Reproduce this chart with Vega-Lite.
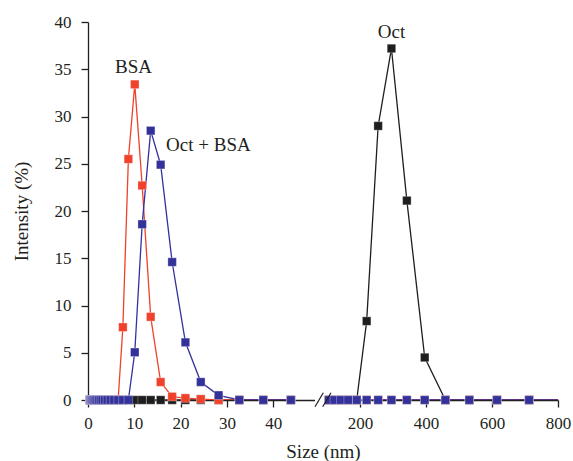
{
  "$schema": "https://vega.github.io/schema/vega-lite/v6.json",
  "width": 470,
  "height": 378,
  "autosize": "none",
  "padding": {"left": 88, "top": 22, "right": 15, "bottom": 61},
  "background": "white",
  "config": {
    "view": {"stroke": null},
    "font": "Liberation Serif",
    "axis": {
      "grid": false,
      "domainColor": "#231f20",
      "domainWidth": 1.3,
      "tickColor": "#231f20",
      "tickWidth": 1.3,
      "labelFont": "Liberation Serif",
      "labelFontSize": 17,
      "labelColor": "#231f20",
      "labelFlush": false,
      "labelOverlap": false,
      "titleFont": "Liberation Serif",
      "titleFontSize": 19,
      "titleFontWeight": "normal",
      "titleColor": "#231f20"
    }
  },
  "datasets": {
    "dls": [
      {"s":"Oct","g":1,"d":0.4,"i":0},{"s":"Oct","g":1,"d":0.4632,"i":0},{"s":"Oct","g":1,"d":0.5365,"i":0},{"s":"Oct","g":1,"d":0.6213,"i":0},{"s":"Oct","g":1,"d":0.7195,"i":0},{"s":"Oct","g":1,"d":0.8332,"i":0},{"s":"Oct","g":1,"d":0.9649,"i":0},{"s":"Oct","g":1,"d":1.117,"i":0},{"s":"Oct","g":1,"d":1.294,"i":0},{"s":"Oct","g":1,"d":1.499,"i":0},{"s":"Oct","g":1,"d":1.736,"i":0},{"s":"Oct","g":1,"d":2.01,"i":0},{"s":"Oct","g":1,"d":2.328,"i":0},{"s":"Oct","g":1,"d":2.696,"i":0},{"s":"Oct","g":1,"d":3.122,"i":0},{"s":"Oct","g":1,"d":3.615,"i":0},{"s":"Oct","g":1,"d":4.187,"i":0},{"s":"Oct","g":1,"d":4.849,"i":0},{"s":"Oct","g":1,"d":5.615,"i":0},{"s":"Oct","g":1,"d":6.503,"i":0},{"s":"Oct","g":1,"d":7.531,"i":0},{"s":"Oct","g":1,"d":8.721,"i":0},{"s":"Oct","g":1,"d":10.1,"i":0},{"s":"Oct","g":1,"d":11.7,"i":0},{"s":"Oct","g":1,"d":13.54,"i":0},{"s":"Oct","g":1,"d":15.69,"i":0},{"s":"Oct","g":1,"d":18.17,"i":0},{"s":"Oct","g":1,"d":21.04,"i":0},{"s":"Oct","g":1,"d":24.36,"i":0},{"s":"Oct","g":1,"d":28.21,"i":0},{"s":"Oct","g":1,"d":32.67,"i":0},{"s":"Oct","g":1,"d":37.84,"i":0},{"s":"Oct","g":1,"d":43.82,"i":0},
      {"s":"Oct","g":2,"d":105.7,"i":0},{"s":"Oct","g":2,"d":122.4,"i":0},{"s":"Oct","g":2,"d":141.8,"i":0},{"s":"Oct","g":2,"d":164.2,"i":0},{"s":"Oct","g":2,"d":190.1,"i":0},{"s":"Oct","g":2,"d":220.2,"i":8.35},{"s":"Oct","g":2,"d":255,"i":29.0},{"s":"Oct","g":2,"d":295.3,"i":37.2},{"s":"Oct","g":2,"d":342,"i":21.1},{"s":"Oct","g":2,"d":396.1,"i":4.5},{"s":"Oct","g":2,"d":458.7,"i":0},{"s":"Oct","g":2,"d":531.2,"i":0},{"s":"Oct","g":2,"d":615.1,"i":0},{"s":"Oct","g":2,"d":712.4,"i":0},{"s":"Oct","g":2,"d":825,"i":0},
      {"s":"BSA","g":1,"d":0.4,"i":0},{"s":"BSA","g":1,"d":0.4632,"i":0},{"s":"BSA","g":1,"d":0.5365,"i":0},{"s":"BSA","g":1,"d":0.6213,"i":0},{"s":"BSA","g":1,"d":0.7195,"i":0},{"s":"BSA","g":1,"d":0.8332,"i":0},{"s":"BSA","g":1,"d":0.9649,"i":0},{"s":"BSA","g":1,"d":1.117,"i":0},{"s":"BSA","g":1,"d":1.294,"i":0},{"s":"BSA","g":1,"d":1.499,"i":0},{"s":"BSA","g":1,"d":1.736,"i":0},{"s":"BSA","g":1,"d":2.01,"i":0},{"s":"BSA","g":1,"d":2.328,"i":0},{"s":"BSA","g":1,"d":2.696,"i":0},{"s":"BSA","g":1,"d":3.122,"i":0},{"s":"BSA","g":1,"d":3.615,"i":0},{"s":"BSA","g":1,"d":4.187,"i":0},{"s":"BSA","g":1,"d":4.849,"i":0},{"s":"BSA","g":1,"d":5.615,"i":0},{"s":"BSA","g":1,"d":6.503,"i":0},{"s":"BSA","g":1,"d":7.531,"i":7.7},{"s":"BSA","g":1,"d":8.721,"i":25.5},{"s":"BSA","g":1,"d":10.1,"i":33.4},{"s":"BSA","g":1,"d":11.7,"i":22.7},{"s":"BSA","g":1,"d":13.54,"i":8.8},{"s":"BSA","g":1,"d":15.69,"i":1.9},{"s":"BSA","g":1,"d":18.17,"i":0.35},{"s":"BSA","g":1,"d":21.04,"i":0.2},{"s":"BSA","g":1,"d":24.36,"i":0.1},{"s":"BSA","g":1,"d":28.21,"i":0},{"s":"BSA","g":1,"d":32.67,"i":0},{"s":"BSA","g":1,"d":37.84,"i":0},{"s":"BSA","g":1,"d":43.82,"i":0},
      {"s":"BSA","g":2,"d":105.7,"i":0},{"s":"BSA","g":2,"d":122.4,"i":0},{"s":"BSA","g":2,"d":141.8,"i":0},{"s":"BSA","g":2,"d":164.2,"i":0},{"s":"BSA","g":2,"d":190.1,"i":0},{"s":"BSA","g":2,"d":220.2,"i":0},{"s":"BSA","g":2,"d":255,"i":0},{"s":"BSA","g":2,"d":295.3,"i":0},{"s":"BSA","g":2,"d":342,"i":0},{"s":"BSA","g":2,"d":396.1,"i":0},{"s":"BSA","g":2,"d":458.7,"i":0},{"s":"BSA","g":2,"d":531.2,"i":0},{"s":"BSA","g":2,"d":615.1,"i":0},{"s":"BSA","g":2,"d":712.4,"i":0},{"s":"BSA","g":2,"d":825,"i":0},
      {"s":"Oct + BSA","g":1,"d":0.4,"i":0},{"s":"Oct + BSA","g":1,"d":0.4632,"i":0},{"s":"Oct + BSA","g":1,"d":0.5365,"i":0},{"s":"Oct + BSA","g":1,"d":0.6213,"i":0},{"s":"Oct + BSA","g":1,"d":0.7195,"i":0},{"s":"Oct + BSA","g":1,"d":0.8332,"i":0},{"s":"Oct + BSA","g":1,"d":0.9649,"i":0},{"s":"Oct + BSA","g":1,"d":1.117,"i":0},{"s":"Oct + BSA","g":1,"d":1.294,"i":0},{"s":"Oct + BSA","g":1,"d":1.499,"i":0},{"s":"Oct + BSA","g":1,"d":1.736,"i":0},{"s":"Oct + BSA","g":1,"d":2.01,"i":0},{"s":"Oct + BSA","g":1,"d":2.328,"i":0},{"s":"Oct + BSA","g":1,"d":2.696,"i":0},{"s":"Oct + BSA","g":1,"d":3.122,"i":0},{"s":"Oct + BSA","g":1,"d":3.615,"i":0},{"s":"Oct + BSA","g":1,"d":4.187,"i":0},{"s":"Oct + BSA","g":1,"d":4.849,"i":0},{"s":"Oct + BSA","g":1,"d":5.615,"i":0},{"s":"Oct + BSA","g":1,"d":6.503,"i":0},{"s":"Oct + BSA","g":1,"d":7.531,"i":0},{"s":"Oct + BSA","g":1,"d":8.721,"i":0},{"s":"Oct + BSA","g":1,"d":10.1,"i":5.05},{"s":"Oct + BSA","g":1,"d":11.7,"i":18.6},{"s":"Oct + BSA","g":1,"d":13.54,"i":28.5},{"s":"Oct + BSA","g":1,"d":15.69,"i":24.9},{"s":"Oct + BSA","g":1,"d":18.17,"i":14.6},{"s":"Oct + BSA","g":1,"d":21.04,"i":6.1},{"s":"Oct + BSA","g":1,"d":24.36,"i":1.9},{"s":"Oct + BSA","g":1,"d":28.21,"i":0.5},{"s":"Oct + BSA","g":1,"d":32.67,"i":0},{"s":"Oct + BSA","g":1,"d":37.84,"i":0},{"s":"Oct + BSA","g":1,"d":43.82,"i":0},
      {"s":"Oct + BSA","g":2,"d":105.7,"i":0},{"s":"Oct + BSA","g":2,"d":122.4,"i":0},{"s":"Oct + BSA","g":2,"d":141.8,"i":0},{"s":"Oct + BSA","g":2,"d":164.2,"i":0},{"s":"Oct + BSA","g":2,"d":190.1,"i":0},{"s":"Oct + BSA","g":2,"d":220.2,"i":0},{"s":"Oct + BSA","g":2,"d":255,"i":0},{"s":"Oct + BSA","g":2,"d":295.3,"i":0},{"s":"Oct + BSA","g":2,"d":342,"i":0},{"s":"Oct + BSA","g":2,"d":396.1,"i":0},{"s":"Oct + BSA","g":2,"d":458.7,"i":0},{"s":"Oct + BSA","g":2,"d":531.2,"i":0},{"s":"Oct + BSA","g":2,"d":615.1,"i":0},{"s":"Oct + BSA","g":2,"d":712.4,"i":0},{"s":"Oct + BSA","g":2,"d":825,"i":0}
    ]
  },
  "layer": [
    {
      "data": {"values": [{"x": 49.5, "x2": 99.3, "y": -1.2, "y2": 1.2}]},
      "mark": {"type": "rect", "fill": "white"},
      "encoding": {
        "x": {"field": "x", "type": "quantitative",
          "scale": {"domain": [0, 49, 100, 800], "range": [0, 226.9, 239, 470]},
          "title": "Size (nm)",
          "axis": {
            "values": [0,5,10,15,20,25,30,35,40,45,200,300,400,500,600,700,800],
            "labelExpr": "((datum.value <= 50 && datum.value % 10 == 0) || datum.value % 200 == 0) ? datum.label : ''",
            "tickSize": {"condition": {"test": "(datum.value <= 50 && datum.value % 10 == 0) || datum.value % 200 == 0", "value": 7}, "value": 4},
            "labelPadding": 8,
            "titlePadding": 11
          }
        },
        "x2": {"field": "x2"},
        "y": {"field": "y", "type": "quantitative",
          "scale": {"domain": [0, 40]},
          "title": "Intensity (%)",
          "axis": {
            "values": [0,2.5,5,7.5,10,12.5,15,17.5,20,22.5,25,27.5,30,32.5,35,37.5,40],
            "labelExpr": "datum.value % 5 == 0 ? datum.label : ''",
            "tickSize": {"condition": {"test": "datum.value % 5 == 0", "value": 7}, "value": 4},
            "labelPadding": 10,
            "titlePadding": 23
          }
        },
        "y2": {"field": "y2"}
      }
    },
    {
      "data": {"name": "dls"},
      "mark": {"type": "line", "strokeWidth": 1.3, "clip": true},
      "encoding": {
        "x": {"field": "d", "type": "quantitative"},
        "y": {"field": "i", "type": "quantitative"},
        "color": {"field": "s", "type": "nominal", "legend": null,
          "scale": {"domain": ["Oct", "BSA", "Oct + BSA"], "range": ["#1e1e1e", "#f0412b", "#33319a"]}},
        "detail": {"field": "g", "type": "nominal"}
      }
    },
    {
      "data": {"name": "dls"},
      "transform": [{"filter": "datum.d <= 800"}],
      "mark": {"type": "point", "shape": "square", "filled": true, "size": 72, "opacity": 1, "stroke": "white", "strokeWidth": 0.3},
      "encoding": {
        "x": {"field": "d", "type": "quantitative"},
        "y": {"field": "i", "type": "quantitative"},
        "fill": {"field": "s", "type": "nominal", "legend": null,
          "scale": {"domain": ["Oct", "BSA", "Oct + BSA"], "range": ["#1e1e1e", "#f0412b", "#33319a"]}}
      }
    },
    {
      "data": {"values": [
        {"x": 49.4, "y": -0.71, "x2": 84.4, "y2": 0.77},
        {"x": 81.9, "y": -0.71, "x2": 112.1, "y2": 0.77}
      ]},
      "mark": {"type": "rule", "color": "#231f20", "strokeWidth": 1.2},
      "encoding": {
        "x": {"field": "x", "type": "quantitative"},
        "y": {"field": "y", "type": "quantitative"},
        "x2": {"field": "x2"},
        "y2": {"field": "y2"}
      }
    },
    {
      "data": {"values": [
        {"t": "BSA", "x": 9.83, "y": 35.2},
        {"t": "Oct + BSA", "x": 26.0, "y": 27.0},
        {"t": "Oct", "x": 295.5, "y": 38.9}
      ]},
      "mark": {"type": "text", "font": "Liberation Serif", "fontSize": 19, "color": "#231f20", "baseline": "middle", "align": "center"},
      "encoding": {
        "x": {"field": "x", "type": "quantitative"},
        "y": {"field": "y", "type": "quantitative"},
        "text": {"field": "t"}
      }
    }
  ]
}
